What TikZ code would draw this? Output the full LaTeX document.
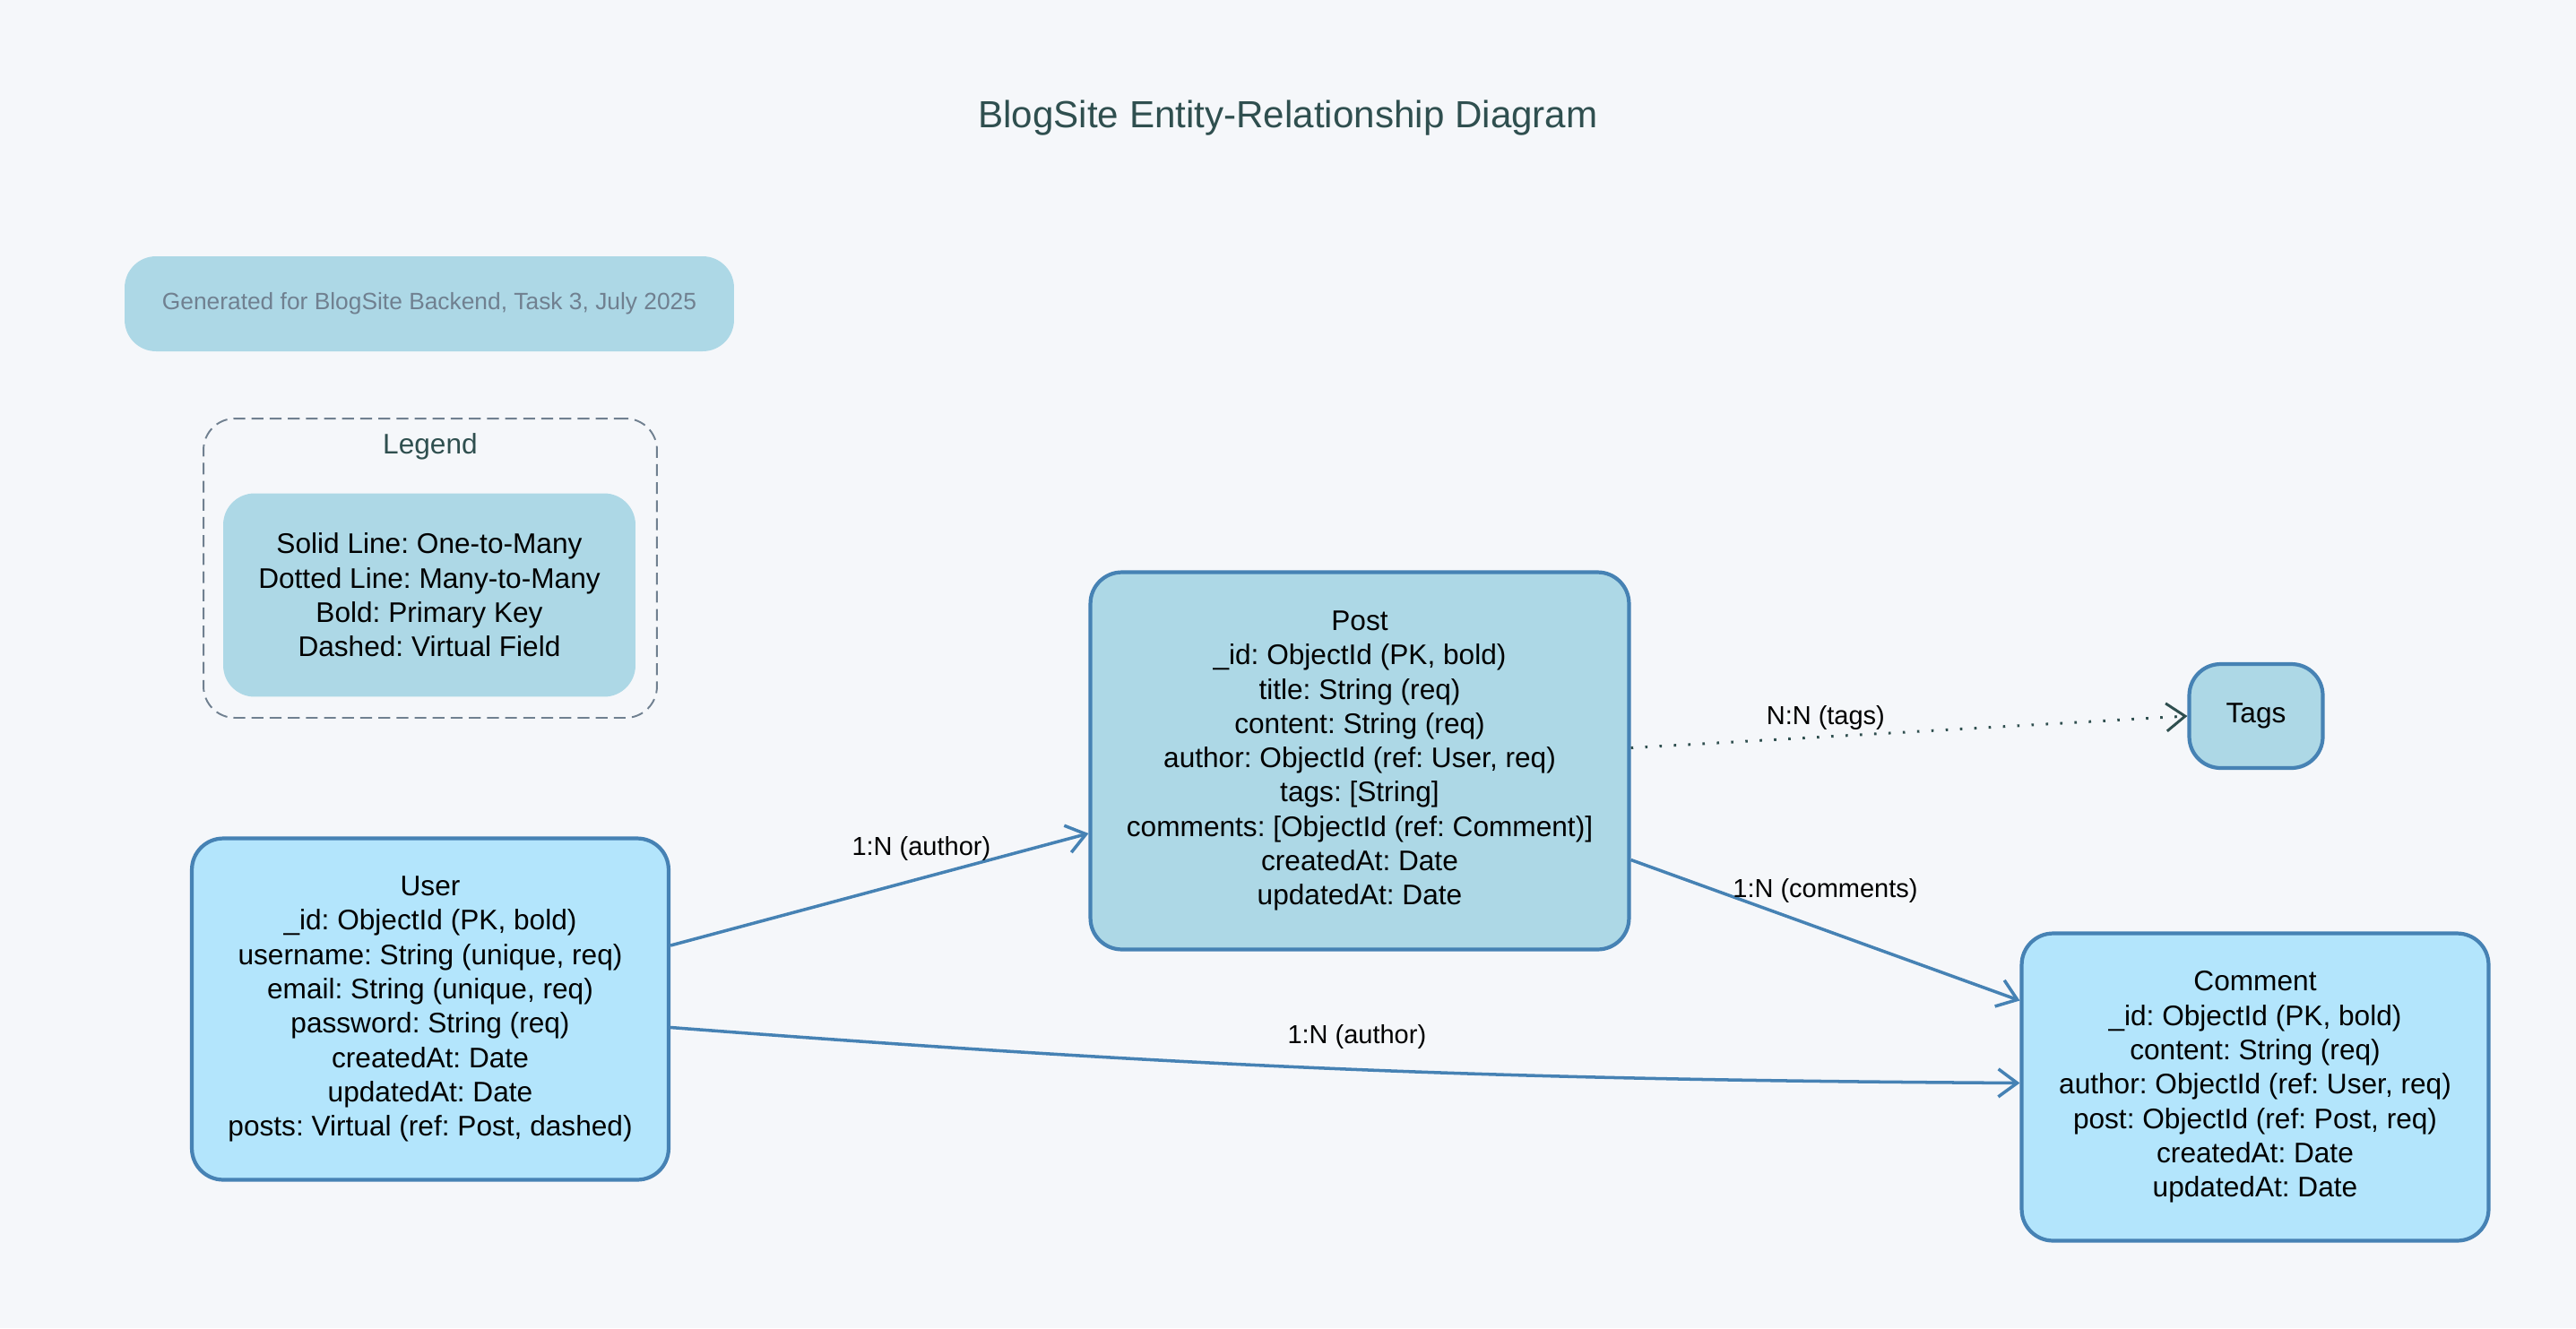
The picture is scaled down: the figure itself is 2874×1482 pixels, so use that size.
\documentclass[tikz,border=0pt]{standalone}
\usepackage{fontspec}
\setmainfont{Liberation Sans}
\usetikzlibrary{arrows.meta}
\definecolor{bgcol}{HTML}{F5F7FA}
\definecolor{boxblue}{HTML}{ADD8E6}
\definecolor{skyfill}{HTML}{B3E5FC}
\definecolor{linkblue}{HTML}{4682B4}
\definecolor{darkslate}{HTML}{2F4F4F}
\definecolor{slate}{HTML}{708090}
\frenchspacing
\begin{document}
\begin{tikzpicture} [
        x=0.02cm, y=-0.02cm,
        body/.style={font=\fontsize{18}{21.8}\selectfont},
        entity/.style={body, draw=linkblue, rounded corners=0.7cm, line width=2.4pt, fill=boxblue, align=center},
        doc/.style={entity, fill=skyfill},
        note/.style={rounded corners=0.7cm, fill=boxblue, align=center},
        rel/.style={draw=linkblue, line width=2pt, -{Straight Barb[length=0.42cm, width=0.62cm]}},
        many/.style={draw=darkslate, line width=1.7pt, dash pattern=on 1.5pt off 7.6pt, -{Straight Barb[length=0.42cm, width=0.62cm]}},
        lbl/.style={font=\fontsize{16.5}{20}\selectfont} ]
    \fill[bgcol] (0,0) rectangle (2874,1482);
    \node[text=darkslate, font=\fontsize{24}{28}\selectfont] (title) at (1437,132) {BlogSite Entity-Relationship Diagram};
    \node[note, minimum width=13.6cm, minimum height=2.12cm, text=slate, font=\fontsize{15}{18}\selectfont] (gen) at (479,339) {Generated for BlogSite Backend, Task 3, July 2025};
    \node[draw=slate, line width=1.1pt, dash pattern=on 7.5pt off 4pt, rounded corners=0.7cm, minimum width=10.12cm, minimum height=6.68cm] (legend) at (480,634) {};
    \node[body, text=darkslate] (legendtitle) at (480,498) {Legend};
    \node[note, body, minimum width=9.2cm, minimum height=4.54cm] (key) at (479,664) {Solid Line: One-to-Many\\Dotted Line: Many-to-Many\\Bold: Primary Key\\Dashed: Virtual Field};
    \node[entity, minimum width=12.02cm, minimum height=8.42cm] (post) at (1517,849) {Post\\\_id: ObjectId (PK, bold)\\title: String (req)\\content: String (req)\\author: ObjectId (ref: User, req)\\tags: [String]\\comments: [ObjectId (ref: Comment)]\\createdAt: Date\\updatedAt: Date};
    \node[entity, minimum width=2.98cm, minimum height=2.32cm] (tags) at (2517,799) {Tags};
    \node[doc, minimum width=10.64cm, minimum height=7.62cm] (user) at (480,1126) {User\\\_id: ObjectId (PK, bold)\\username: String (unique, req)\\email: String (unique, req)\\password: String (req)\\createdAt: Date\\updatedAt: Date\\posts: Virtual (ref: Post, dashed)};
    \node[doc, minimum width=10.42cm, minimum height=6.86cm] (comment) at (2516,1213) {Comment\\\_id: ObjectId (PK, bold)\\content: String (req)\\author: ObjectId (ref: User, req)\\post: ObjectId (ref: Post, req)\\createdAt: Date\\updatedAt: Date};
    \draw ([yshift=1.42cm]user.east) edge[rel] node[lbl, pos=0.6, above=0.24cm] {1:N (author)} ([yshift=-1.62cm]post.west);
    \draw ([yshift=0.29cm]post.east) edge[many] node[lbl, pos=0.35, above] {N:N (tags)} (tags.west);
    \draw ([yshift=-2.21cm]post.east) edge[rel] node[lbl, pos=0.5, above=0.46cm] {1:N (comments)} ([yshift=1.93cm]comment.west);
    \draw ([yshift=-0.41cm]user.east) edge[rel, bend right=2] node[lbl, pos=0.51, above=0.3cm] {1:N (author)} ([yshift=0.09cm]comment.west);
\end{tikzpicture}
\end{document}
